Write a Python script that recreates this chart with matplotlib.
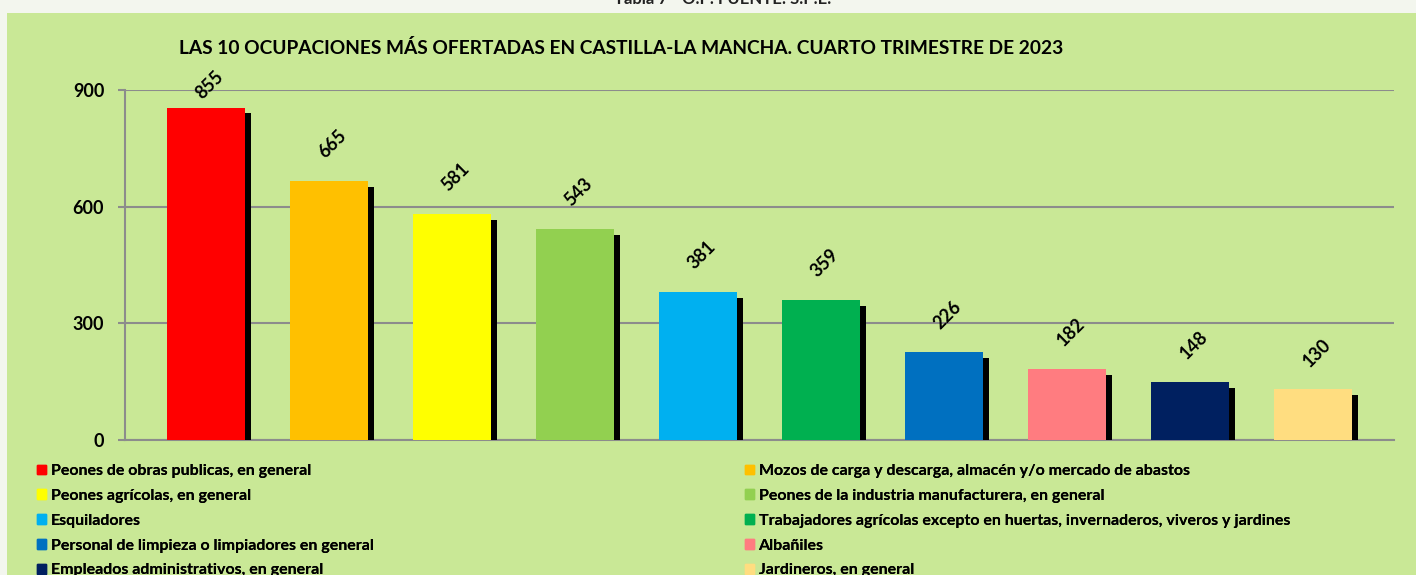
import matplotlib.pyplot as plt
import matplotlib.patheffects as pe
from matplotlib.patches import Rectangle
import numpy as np

# Data
ocupaciones = [
    'Peones de obras publicas, en general',
    'Mozos de carga y descarga, almacén y/o mercado de abastos',
    'Peones agrícolas, en general',
    'Peones de la industria manufacturera, en general',
    'Esquiladores',
    'Trabajadores agrícolas excepto en huertas, invernaderos, viveros y jardines',
    'Personal de limpieza o limpiadores en general',
    'Albañiles',
    'Empleados administrativos, en general',
    'Jardineros, en general',
]
ofertas = [855, 665, 581, 543, 381, 359, 226, 182, 148, 130]
colores = ['#ff0000', '#ffc000', '#ffff00', '#92d050', '#00b0f0',
           '#00b050', '#0070c0', '#ff7c80', '#002060', '#ffdd80']
y_ticks = [0, 300, 600, 900]

W, H = 1416, 575
fig = plt.figure(figsize=(W / 100, H / 100), dpi=100)
fig.patch.set_facecolor('#f3f6ee')
plt.rcParams['font.family'] = ['Lato', 'DejaVu Sans']

# green panel
fig.add_artist(Rectangle((7 / W, 0), 1, 1 - 13 / H, transform=fig.transFigure,
                         facecolor='#c9e896', edgecolor='none', zorder=0))
# header line above the panel (cut off at the top, as in the source)
fig.text(723 / W, 1 + 1 / H, 'Tabla 7 - O.P. FUENTE: S.P.E.', ha='center', va='center',
         fontsize=12, fontweight='bold', color='#222222')

ax = fig.add_axes([125 / W, 1 - 440 / H, (1394 - 125) / W, 350 / H])
ax.set_facecolor('none')

x = np.arange(len(ofertas))
bars = ax.bar(x, ofertas, width=0.634, color=colores, zorder=3)
for b in bars:
    b.set_path_effects([pe.SimplePatchShadow(offset=(4.3, -4.3), shadow_rgbFace='black', alpha=1.0),
                        pe.Normal()])

ax.set_xlim(-0.659, 9.659)
ax.set_ylim(0, 900)
ax.set_yticks(y_ticks)
ax.set_yticklabels([str(t) for t in y_ticks], fontsize=13, fontweight='bold')
ax.set_xticks([])
ax.yaxis.grid(True, color='#8c8c8c', linewidth=1.5)
ax.set_axisbelow(True)
ax.tick_params(axis='y', length=5, width=1.5, color='#8c8c8c', pad=10)
for s in ['top', 'right']:
    ax.spines[s].set_visible(False)
for s in ['left', 'bottom']:
    ax.spines[s].set_color('#8c8c8c')
    ax.spines[s].set_linewidth(1.5)

# value labels, rotated
for xi, v in zip(x, ofertas):
    ax.text(xi + 0.03, min(v + 95, 913), str(v), rotation=45, ha='center', va='center',
            fontsize=13, fontweight='bold', zorder=5)

fig.text(621 / W, 1 - 48 / H,
         'LAS 10 OCUPACIONES MÁS OFERTADAS EN CASTILLA-LA MANCHA. CUARTO TRIMESTRE DE 2023',
         ha='center', va='center', fontsize=13.8, fontweight='bold')

# legend in two columns (row-wise order)
handles = [Rectangle((0, 0), 1, 1, color=c) for c in colores]
for col, x0 in enumerate([37, 745]):
    idx = list(range(col, len(ocupaciones), 2))
    leg = fig.legend([handles[i] for i in idx], [ocupaciones[i] for i in idx],
                     loc='upper left', bbox_to_anchor=(x0 / W, 1 - 464 / H),
                     frameon=False, ncol=1, handlelength=0.55, handleheight=0.55,
                     handletextpad=0.3, labelspacing=0.68, borderpad=0, borderaxespad=0,
                     prop={'weight': 'bold', 'size': 11.5})
    fig.add_artist(leg)

fig.savefig('out.png', dpi=100, facecolor=fig.get_facecolor())
